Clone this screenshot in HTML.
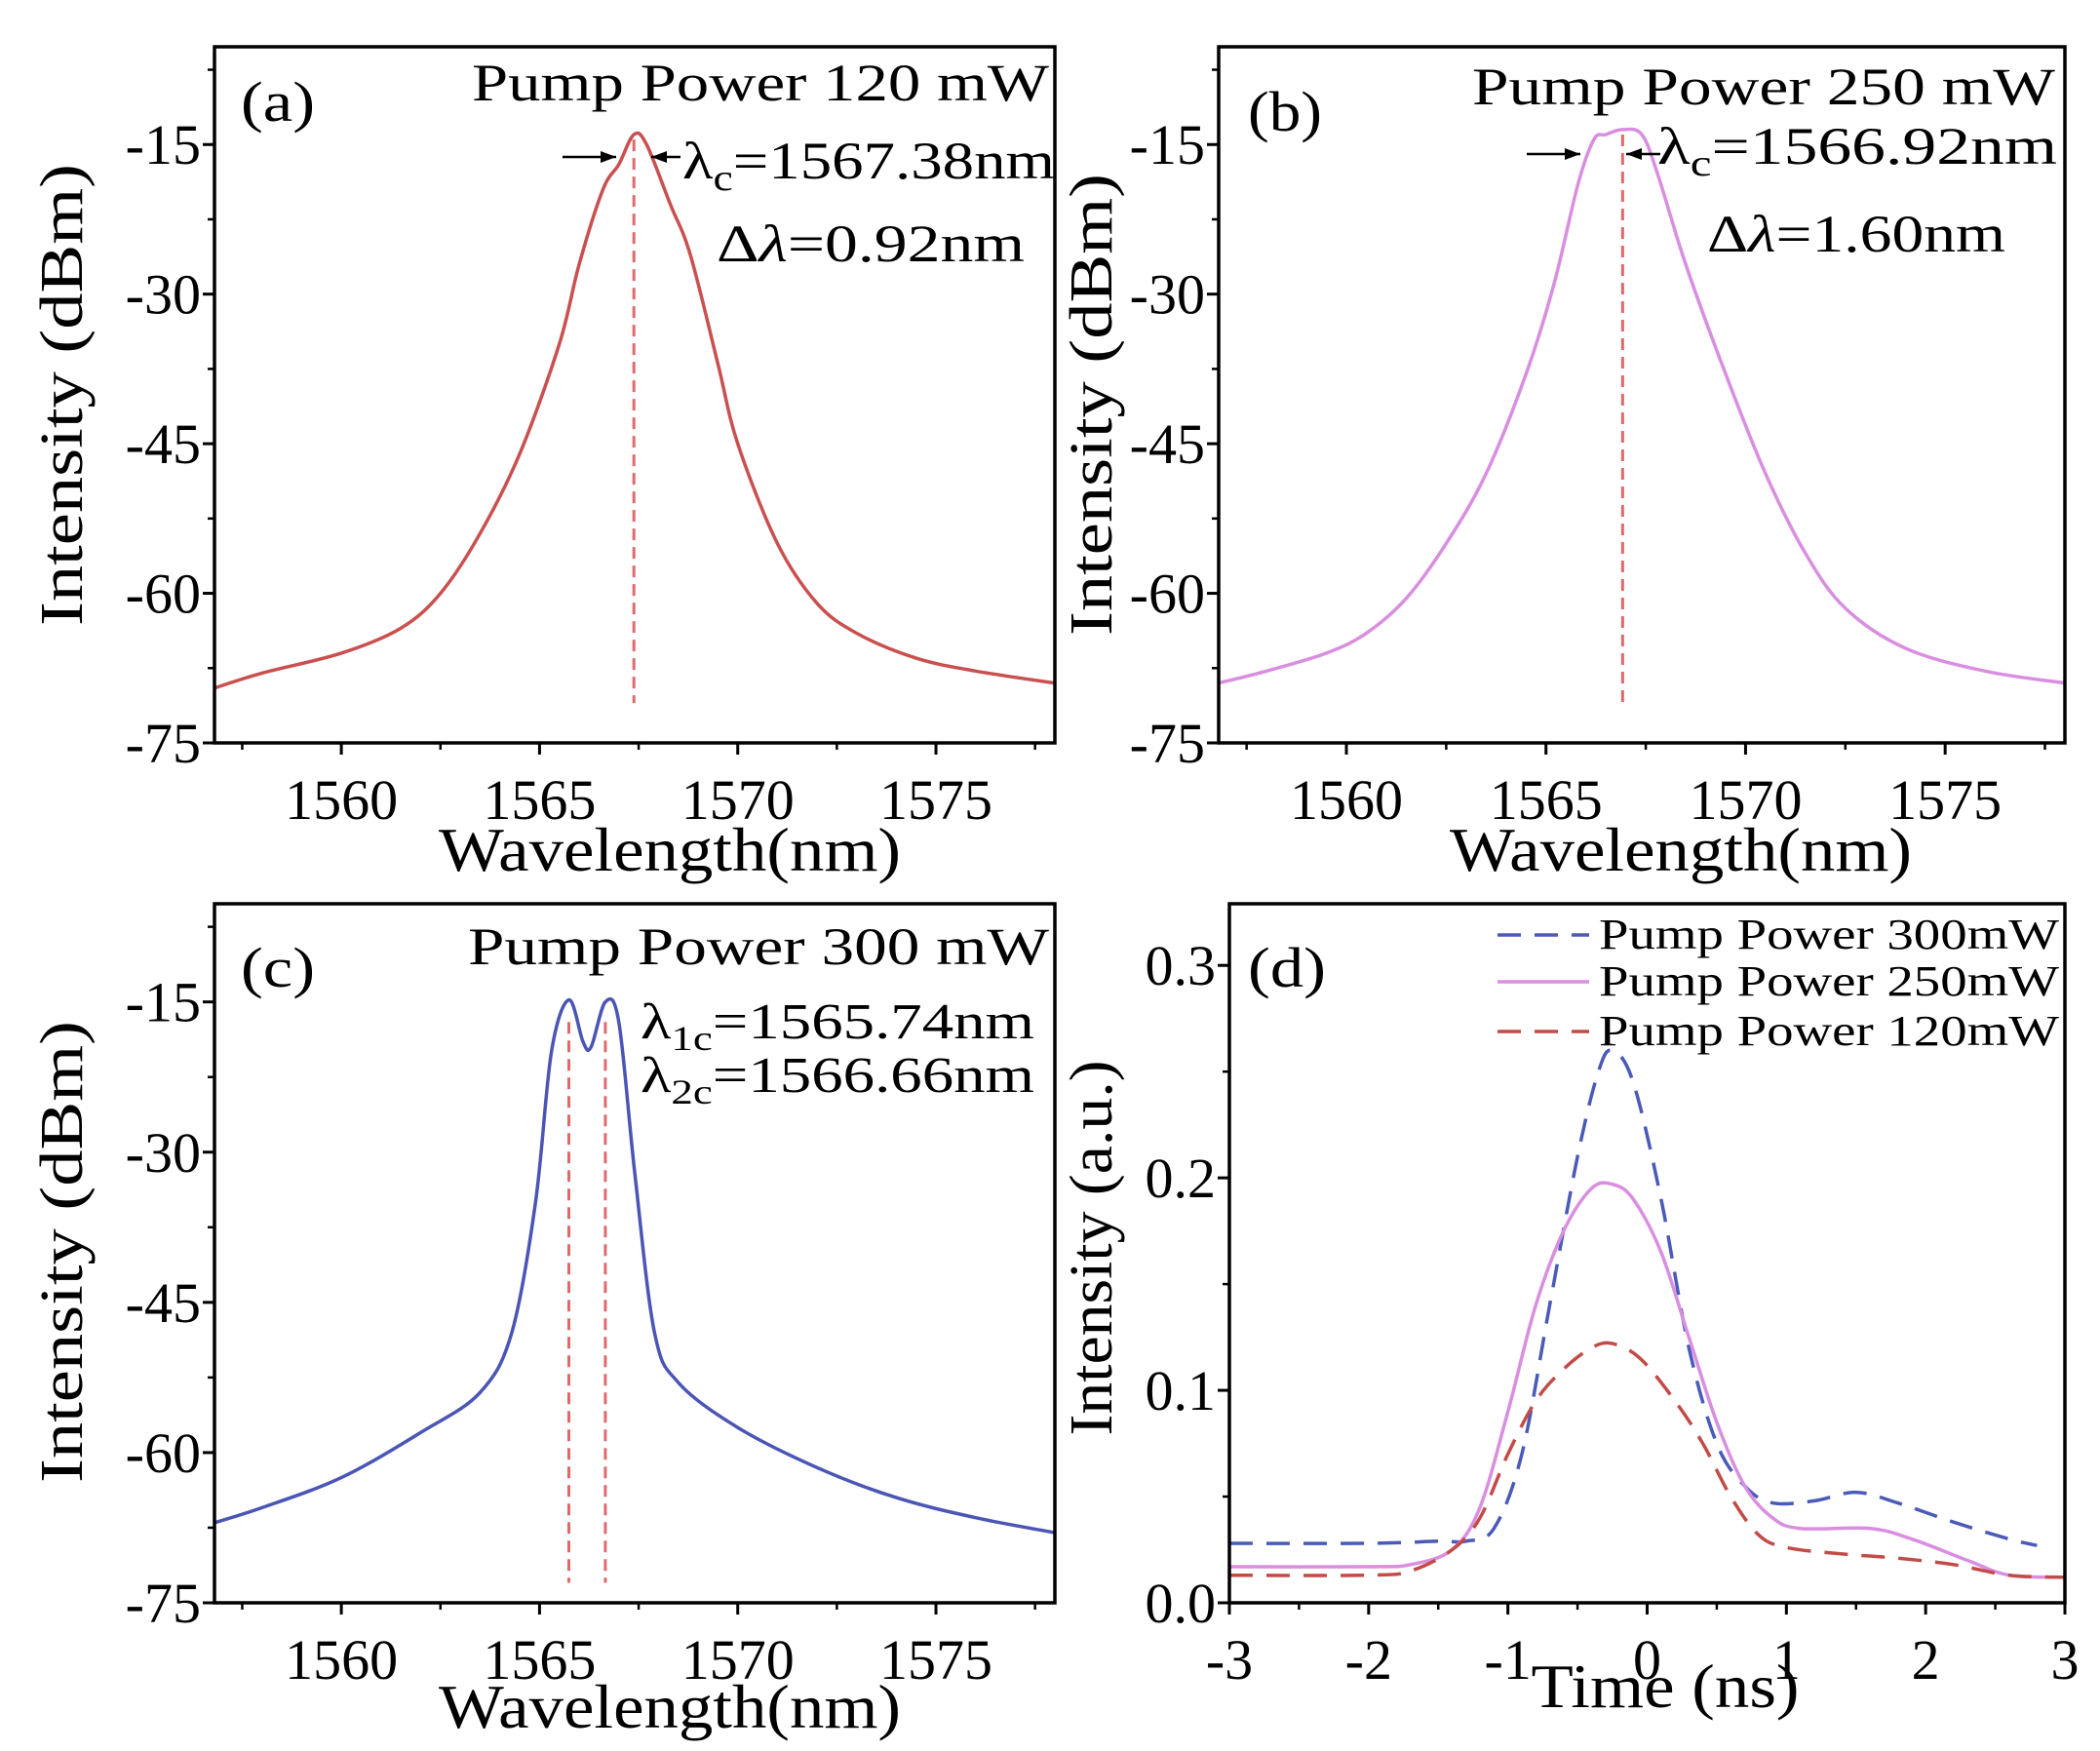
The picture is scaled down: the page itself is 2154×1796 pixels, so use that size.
<!DOCTYPE html>
<html><head><meta charset="utf-8"><style>
html,body{margin:0;padding:0;background:#fff;}
svg{display:block;font-family:"Liberation Serif",serif;}
</style></head><body>
<svg id="fig" width="2154" height="1796" viewBox="0 0 2154 1796" xmlns="http://www.w3.org/2000/svg"></svg>
<script>
// ---- data ----
const aWl = [1556.8,1558,1560,1561.5,1562.5,1563.5,1564.5,1565.5,1566,1566.6,1567,1567.38,1567.7,1568.3,1568.8,1569.5,1570,1571,1572,1573,1574.5,1576,1578];
const aDb = [-69.5,-68,-66,-63.5,-60,-54,-46,-35,-27,-19.5,-17,-14,-15,-21,-26,-37,-45,-55,-61,-64,-66.5,-67.8,-69];
const bWl = [1556.8,1558,1559.5,1560.5,1561.5,1562.5,1563.5,1564.5,1565.2,1565.8,1566.2,1566.5,1566.92,1567.4,1567.8,1568.5,1569.5,1570.5,1571.5,1572.5,1574,1576,1578];
const bDb = [-69,-67.8,-66,-64,-60.5,-55,-48,-38,-29,-19,-14.5,-14,-13.5,-14,-18,-27,-38,-48,-56,-61.5,-65.5,-67.8,-69];
const cWl = [1556.8,1558,1560,1562,1563.5,1564.3,1564.9,1565.3,1565.74,1566.1,1566.3,1566.66,1567.0,1567.4,1567.9,1568.5,1570,1572,1574,1576,1578];
const cDb = [-67,-65.5,-62.5,-58,-54,-48,-35,-20,-14.8,-19,-19.5,-15,-17,-32,-48,-53,-57.5,-61.5,-64.5,-66.5,-68];
const dT300 = [-3,-2,-1.5,-1.3,-1.1,-0.9,-0.7,-0.5,-0.35,-0.25,-0.1,0.1,0.3,0.5,0.7,0.9,1.2,1.5,1.8,2.2,2.6,2.8];
const dI300 = [0.028,0.028,0.029,0.029,0.035,0.07,0.14,0.21,0.25,0.26,0.245,0.19,0.12,0.075,0.055,0.047,0.048,0.052,0.047,0.038,0.03,0.027];
const dT250 = [-3,-2,-1.7,-1.4,-1.2,-1,-0.8,-0.6,-0.4,-0.25,-0.1,0.1,0.3,0.5,0.7,0.9,1.1,1.6,1.9,2.3,2.6,3];
const dI250 = [0.017,0.017,0.018,0.025,0.045,0.09,0.14,0.175,0.195,0.197,0.19,0.165,0.125,0.085,0.055,0.04,0.035,0.035,0.03,0.02,0.013,0.012];
const dT120 = [-3,-2,-1.7,-1.4,-1.2,-1,-0.8,-0.6,-0.4,-0.25,-0.05,0.2,0.4,0.6,0.8,1.0,1.4,1.8,2.2,2.6,3];
const dI120 = [0.013,0.013,0.015,0.025,0.04,0.07,0.095,0.11,0.12,0.122,0.115,0.095,0.075,0.05,0.032,0.026,0.023,0.021,0.018,0.013,0.012];
const wlTicks = [1560,1565,1570,1575];
const dbTicks = [-75,-60,-45,-30,-15];
const dbLabels = ["-75","-60","-45","-30","-15"];
const tTicks = [-3,-2,-1,0,1,2,3];
const iTicks = [0,0.1,0.2,0.3];
const iLabels = ["0.0","0.1","0.2","0.3"];

const NS = "http://www.w3.org/2000/svg";
const svg = document.getElementById('fig');
function mk(tag, attrs, parent, txt){
  const e = document.createElementNS(NS, tag);
  for (const k in attrs) e.setAttribute(k, attrs[k]);
  if (txt !== undefined) e.textContent = txt;
  (parent||svg).appendChild(e);
  return e;
}
function smoothPath(pts){
  let d = "M"+pts[0][0].toFixed(1)+","+pts[0][1].toFixed(1);
  for (let i=0;i<pts.length-1;i++){
    const p0=pts[Math.max(0,i-1)], p1=pts[i], p2=pts[i+1], p3=pts[Math.min(pts.length-1,i+2)];
    const c1=[p1[0]+(p2[0]-p0[0])/6, p1[1]+(p2[1]-p0[1])/6];
    const c2=[p2[0]-(p3[0]-p1[0])/6, p2[1]-(p3[1]-p1[1])/6];
    d += " C"+c1[0].toFixed(1)+","+c1[1].toFixed(1)+" "+c2[0].toFixed(1)+","+c2[1].toFixed(1)+" "+p2[0].toFixed(1)+","+p2[1].toFixed(1);
  }
  return d;
}

function panel(opts){
  const g = mk('g', {}, svg);
  
  
  const {L,R,T,B,x0,x1,y0,y1} = opts;
  const sx = v => L + (v-x0)/(x1-x0)*(R-L);
  const sy = v => B - (v-y0)/(y1-y0)*(B-T);
  opts.xt.forEach((v,i)=>{
    const t = mk('line',{x1:sx(v),x2:sx(v),y1:B,y2:B+12,stroke:'#000','stroke-width':3},g);
    
    
    const lb = mk('text',{x:sx(v),y:B+78,'font-size':58,'text-anchor':'middle'},g,opts.xl[i]);
    
    
  });
  opts.xm.forEach(v=>{
    const t = mk('line',{x1:sx(v),x2:sx(v),y1:B,y2:B+7,stroke:'#000','stroke-width':2.5},g);
    
    
  });
  opts.yt.forEach((v,i)=>{
    const t = mk('line',{x1:L-12,x2:L,y1:sy(v),y2:sy(v),stroke:'#000','stroke-width':3},g);
    
    
    const lb = mk('text',{x:L-14,y:sy(v)+20,'font-size':58,'text-anchor':'end'},g,opts.yl[i]);
    
    
  });
  opts.ym.forEach(v=>{
    const t = mk('line',{x1:L-7,x2:L,y1:sy(v),y2:sy(v),stroke:'#000','stroke-width':2.5},g);
    
    
  });
  opts.series.forEach(s=>{
    const pts = s.x.map((v,i)=>[sx(v), sy(s.y[i])]);
    const p = mk('path',{d:smoothPath(pts),fill:'none',stroke:s.color,'stroke-width':s.w||3.5,'stroke-dasharray':s.dash||'none'},g);
    
    
  });
  (opts.vlines||[]).forEach(v=>{
    const l = mk('line',{x1:sx(v[0]),x2:sx(v[0]),y1:sy(v[1]),y2:sy(v[2]),stroke:'#e06a6a','stroke-width':3,'stroke-dasharray':'12,7'},g);
    
    
  });
  const fr = mk('rect',{x:L,y:T,width:R-L,height:B-T,fill:'none',stroke:'#000','stroke-width':3.5},g);
  
  
  const xt = mk('text',{x:opts.xtitleX||(L+R)/2,y:opts.xtitleY,'font-size':64,'text-anchor':'middle',textLength:opts.xtitleLen,lengthAdjust:'spacingAndGlyphs'},g,opts.xtitle);
  
  
  const cy=opts.ytitleY;
  const yt = mk('text',{x:0,y:0,'font-size':62,'text-anchor':'middle',textLength:opts.ytitleLen,lengthAdjust:'spacingAndGlyphs',transform:`translate(${opts.ytitleX},${cy}) rotate(-90)`},g,opts.ytitle);
  
  
  return {g,sx,sy};
}
const wlMinor = [1557.5,1562.5,1567.5,1572.5,1577.5];
const dbMinor = [-67.5,-52.5,-37.5,-22.5,-7.5];

panel({name:'panel-a',L:220,R:1082,T:48,B:762,x0:1556.8,x1:1578,y0:-75,y1:-5.2,
  xt:wlTicks,xl:wlTicks.map(String),xm:wlMinor,yt:dbTicks,yl:dbLabels,ym:dbMinor,
  series:[{x:aWl,y:aDb,color:'#c9504f',name:'spectrum-120mw'}],vlines:[[1567.38,-14.5,-71]],
  xtitle:'Wavelength(nm)',xtitleY:893,xtitleLen:474,xtitleX:687,ytitle:'Intensity (dBm)',ytitleX:84,ytitleY:405,ytitleLen:474});
panel({name:'panel-b',L:1250,R:2118,T:48,B:762,x0:1556.8,x1:1578,y0:-75,y1:-5.2,
  xt:wlTicks,xl:wlTicks.map(String),xm:wlMinor,yt:dbTicks,yl:dbLabels,ym:dbMinor,
  series:[{x:bWl,y:bDb,color:'#d98ee0',name:'spectrum-250mw'}],vlines:[[1566.92,-14,-71]],
  xtitle:'Wavelength(nm)',xtitleY:893,xtitleLen:474,xtitleX:1724,ytitle:'Intensity (dBm)',ytitleX:1140,ytitleY:415,ytitleLen:474});
panel({name:'panel-c',L:220,R:1082,T:927,B:1644,x0:1556.8,x1:1578,y0:-75,y1:-5.2,
  xt:wlTicks,xl:wlTicks.map(String),xm:wlMinor,yt:dbTicks,yl:dbLabels,ym:dbMinor,
  series:[{x:cWl,y:cDb,color:'#4a55b5',name:'spectrum-300mw'}],vlines:[[1565.74,-17,-73],[1566.66,-17,-73]],
  xtitle:'Wavelength(nm)',xtitleY:1772,xtitleLen:474,xtitleX:687,ytitle:'Intensity (dBm)',ytitleX:84,ytitleY:1284,ytitleLen:474});
panel({name:'panel-d',L:1261,R:2118,T:927,B:1644,x0:-3,x1:3,y0:0,y1:0.329,
  xt:tTicks,xl:tTicks.map(String),xm:[-2.5,-1.5,-0.5,0.5,1.5,2.5],yt:iTicks,yl:iLabels,ym:[0.05,0.15,0.25],
  series:[{x:dT300,y:dI300,color:'#4a5ab8',dash:'24,14',name:'pulse-300mw'},
          {x:dT250,y:dI250,color:'#d98ee0',name:'pulse-250mw'},
          {x:dT120,y:dI120,color:'#c24b47',dash:'24,14',name:'pulse-120mw'}],
  xtitle:'Time (ns)',xtitleY:1751,xtitleLen:275,xtitleX:1708,ytitle:'Intensity (a.u.)',ytitleX:1140,ytitleY:1280,ytitleLen:385});

function label(x,y,txt,name,size,anchor,len){
  const a = {x:x,y:y,'font-size':size,'text-anchor':anchor||'start'};
  if (len){a.textLength=len;a.lengthAdjust='spacingAndGlyphs';}
  const t = mk('text',a,svg);
  t.innerHTML = txt;
  
  
  return t;
}
function arrow(x1,x2,y,name){
  const l = mk('line',{x1:x1,x2:x2,y1:y,y2:y,stroke:'#000','stroke-width':2.5});
  
  
  const d = x2>x1?1:-1;
  const h = mk('polygon',{points:`${x2},${y} ${x2-d*16},${y-6} ${x2-d*16},${y+6}`,fill:'#000'});
  
  
}
label(247,124,'(a)','panel-label-a',58,'start',76);
label(484,103,'Pump Power 120 mW','title-a',54,'start',592);
arrow(577,632,161,'fwhm-arrow-left-a'); arrow(698,668,161,'fwhm-arrow-right-a');
label(700,183,'λ<tspan font-size="38" dy="12">c</tspan><tspan dy="-12">=1567.38nm</tspan>','center-wavelength-a',54,'start',382);
label(735,268,'Δ<tspan font-style="italic">λ</tspan>=0.92nm','linewidth-a',54,'start',316);
label(1280,134,'(b)','panel-label-b',58,'start',76);
label(1510,107,'Pump Power 250 mW','title-b',54,'start',598);
arrow(1566,1621,158,'fwhm-arrow-left-b'); arrow(1703,1668,158,'fwhm-arrow-right-b');
label(1700,168,'λ<tspan font-size="38" dy="12">c</tspan><tspan dy="-12">=1566.92nm</tspan>','center-wavelength-b',54,'start',410);
label(1751,258,'Δ<tspan font-style="italic">λ</tspan>=1.60nm','linewidth-b',54,'start',306);
label(247,1012,'(c)','panel-label-c',58,'start',76);
label(480,989,'Pump Power 300 mW','title-c',54,'start',596);
label(657,1065,'λ<tspan font-size="36" dy="12">1c</tspan><tspan dy="-12">=1565.74nm</tspan>','center-wavelength-1',52,'start',404);
label(657,1120,'λ<tspan font-size="36" dy="12">2c</tspan><tspan dy="-12">=1566.66nm</tspan>','center-wavelength-2',52,'start',404);
label(1280,1012,'(d)','panel-label-d',58,'start',80);
const legY=[959,1007,1058], legC=['#4a5ab8','#d98ee0','#c24b47'], legD=['24,14','none','24,14'];
const legT=['Pump Power 300mW','Pump Power 250mW','Pump Power 120mW'];
legY.forEach((y,i)=>{
  const l = mk('line',{x1:1536,x2:1630,y1:y,y2:y,stroke:legC[i],'stroke-width':3.5,'stroke-dasharray':legD[i]});
  
  
  label(1640,y+14,legT[i],'legend-entry',44,'start',472);
});
</script>
</body></html>
